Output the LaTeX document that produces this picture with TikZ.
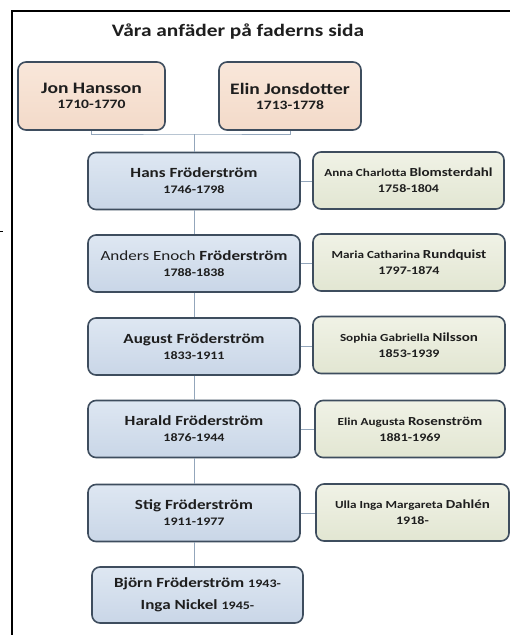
\documentclass[tikz,border=0pt]{standalone}
\usepackage{fontspec}
\setmainfont{Carlito}[FakeStretch=1.22]
\definecolor{edgegray}{HTML}{3E4D5E}
\definecolor{linkgray}{HTML}{93A6BB}
\definecolor{inkgray}{HTML}{1E1E1E}
\definecolor{blueTop}{HTML}{DEE7F2}
\definecolor{blueBot}{HTML}{C9D6E7}
\definecolor{beigeTop}{HTML}{F0F2E6}
\definecolor{beigeBot}{HTML}{E2E6D2}
\definecolor{peachTop}{HTML}{F9E7DA}
\definecolor{peachBot}{HTML}{F3DAC9}
\newcommand{\bigname}{\fontsize{14}{16}\selectfont\bfseries}
\newcommand{\elname}{\fontsize{16}{18}\selectfont\bfseries}
\newcommand{\yrs}{\fontsize{11.5}{14}\selectfont\bfseries}
\newcommand{\firstn}{\fontsize{10.8}{13}\selectfont\bfseries}
\newcommand{\lastn}{\fontsize{12.3}{14}\selectfont\bfseries}
\tikzset{
  box/.style={draw=edgegray, line width=1.6pt, rounded corners=8pt,
              align=center, text=inkgray, minimum height=57pt},
  person/.style={box, top color=blueTop, bottom color=blueBot, minimum width=212pt},
  spouse/.style={box, top color=beigeTop, bottom color=beigeBot, minimum width=192pt},
  elder/.style={box, top color=peachTop, bottom color=peachBot, minimum height=68pt},
  link/.style={draw=linkgray, line width=1pt}
}
\begin{document}
\begin{tikzpicture}[x=1pt,y=-1pt]
    \fill[white] (0,0) rectangle (510,635);
    \useasboundingbox (0,0) rectangle (510,635);
    % Draw frame
    \draw[line width=1.3pt] (12,635) -- (12,11) -- (510,11);
    \draw[line width=0.8pt] (0,231) -- (3,231);

    \node[font=\fontsize{17.5}{20}\selectfont\bfseries, text=inkgray] (title) at (238,32)
        {Våra anfäder på faderns sida};

    % Draw grandparents
    \node[elder, minimum width=147pt] (jon) at (91.5,96)
        {\elname Jon Hansson\\[3pt] \fontsize{12.8}{15}\selectfont\bfseries 1710-1770};
    \node[elder, minimum width=142pt] (elin) at (290,96)
        {\elname Elin Jonsdotter\\[3pt] \fontsize{12.8}{15}\selectfont\bfseries 1713-1778};

    % Draw the line of sons
    \node[person] (hans)   at (194,181)   {\bigname Hans Fröderström\\[4pt] \yrs 1746-1798};
    \node[person] (anders) at (194,263.5) {\fontsize{14}{16}\selectfont Anders Enoch \textbf{Fröderström}\\[4pt] \yrs 1788-1838};
    \node[person] (august) at (194,346.5) {\bigname August Fröderström\\[4pt] \yrs 1833-1911};
    \node[person] (harald) at (194,429)   {\bigname Harald Fröderström\\[4pt] \yrs 1876-1944};
    \node[person] (stig)   at (194,513)   {\bigname Stig Fröderström\\[4pt] \yrs 1911-1977};
    \node[person, minimum width=211pt, minimum height=56pt] (bjorn) at (197.5,595)
        {\bigname Björn Fröderström {\yrs 1943-}\\[9pt] \bigname Inga Nickel {\yrs 1945-}};

    % Draw the wives
    \node[spouse, minimum width=191pt] (anna) at (408.5,180.5)
        {\firstn Anna Charlotta {\lastn Blomsterdahl}\\[4pt] \yrs 1758-1804};
    \node[spouse] (maria)   at (409,262.5) {\firstn Maria Catharina {\lastn Rundquist}\\[4pt] \yrs 1797-1874};
    \node[spouse] (sophia)  at (409,345)   {\firstn Sophia Gabriella {\lastn Nilsson}\\[4pt] \yrs 1853-1939};
    \node[spouse, minimum width=190pt] (elinaug) at (410,429) {\firstn Elin Augusta {\lastn Rosenström}\\[4pt] \yrs 1881-1969};
    \node[spouse, minimum width=193pt] (ulla)    at (412.5,512.5) {\firstn Ulla Inga Margareta {\lastn Dahlén}\\[4pt] \yrs 1918-};

    % Draw connectors
    \coordinate (fork) at (194,134);
    \draw[link] (jon.south) |- (fork) -| (elin.south);
    \draw[link] (fork) -- (hans.north);
    \foreach \a/\b in {hans/anders, anders/august, august/harald, harald/stig}
      \draw[link] (\a.south) -- (\b.north);
    \draw[link] (stig.south) -- (stig.south |- bjorn.north);
    \foreach \a/\b in {hans/anna, anders/maria, august/sophia, harald/elinaug, stig/ulla}
      \draw[link] (\a.east) -- (\a.east -| \b.west);
\end{tikzpicture}
\end{document}
